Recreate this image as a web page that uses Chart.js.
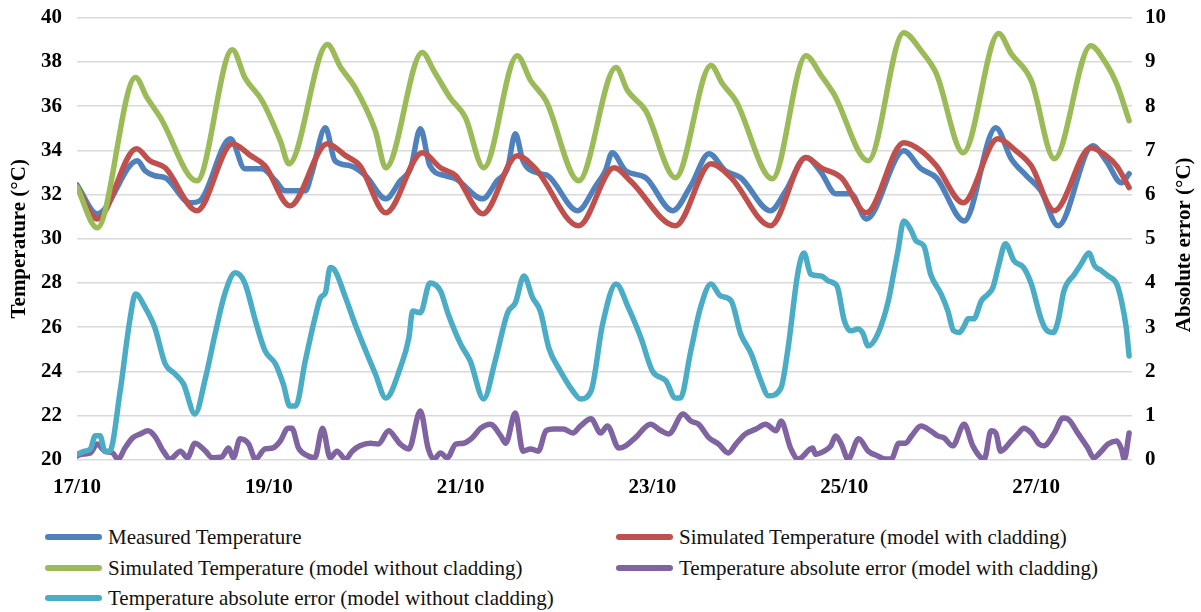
<!DOCTYPE html>
<html>
<head>
<meta charset="utf-8">
<script src="https://cdn.jsdelivr.net/npm/chart.js@4/dist/chart.umd.min.js"></script>
<style>
  body { margin: 0; background: #fff; }
  #wrap { position: relative; width: 1201px; height: 612px; overflow: hidden; font-family: "Liberation Serif", "Times New Roman", serif; }
  #line-chart { position: absolute; left: 0; top: -10px; }
  #legend .sw { position: absolute; width: 57px; height: 6px; border-radius: 3px; }
  #legend .lb { position: absolute; font-size: 21px; line-height: 24px; color: #111; white-space: nowrap; }
</style>
</head>
<body>
<div id="wrap">
  <canvas id="line-chart" width="1201" height="521"></canvas>
  <div id="legend"></div>
</div>
<script>
// x = day of October (17.0 = 17/10 00:00)
const dayTicks = [17, 19, 21, 23, 25, 27];
const tickLabels = ['17/10', '19/10', '21/10', '23/10', '25/10', '27/10'];

const measured = [
  [17.00,32.44],[17.21,31.13],[17.63,33.53],[17.71,33.08],[17.81,32.85],[17.92,32.76],[18.18,31.63],[18.28,31.72],
  [18.60,34.52],[18.75,33.17],[18.93,33.17],[19.07,32.62],[19.17,32.17],[19.38,32.17],[19.45,32.99],[19.59,35.02],
  [19.69,33.53],[19.85,33.30],[20.01,32.85],[20.22,31.81],[20.37,32.62],[20.48,33.21],[20.58,34.98],[20.68,33.30],
  [20.84,32.85],[20.95,32.71],[21.23,31.81],[21.38,32.62],[21.49,33.21],[21.57,34.75],[21.65,33.53],[21.83,32.94],
  [21.91,32.85],[22.22,31.27],[22.41,32.40],[22.51,33.08],[22.58,33.89],[22.72,33.08],[22.93,32.76],[23.21,31.27],
  [23.40,32.40],[23.59,33.85],[23.76,33.08],[23.92,32.76],[24.23,31.27],[24.39,32.17],[24.60,33.67],[24.76,32.99],
  [24.91,32.04],[25.07,32.04],[25.23,30.90],[25.62,33.98],[25.80,33.17],[25.96,32.76],[26.25,30.81],[26.58,35.02],
  [26.74,33.62],[26.90,32.85],[27.05,32.17],[27.23,30.59],[27.59,34.21],[27.73,33.53],[27.89,32.53],[27.97,32.94]
];

const simWith = [
  [17.00,32.35],[17.21,30.90],[17.62,34.07],[17.76,33.53],[17.92,33.21],[18.25,31.27],[18.62,34.30],[18.81,33.76],
  [18.96,33.30],[19.22,31.49],[19.61,34.30],[19.80,33.76],[19.95,33.30],[20.22,31.18],[20.60,33.89],[20.79,33.21],
  [20.95,32.85],[21.23,31.13],[21.59,33.76],[21.78,33.17],[22.23,30.59],[22.60,33.21],[22.77,32.62],[23.24,30.59],
  [23.61,33.39],[23.82,32.76],[24.23,30.59],[24.60,33.67],[24.76,33.21],[24.97,32.76],[25.23,31.18],[25.62,34.34],
  [25.80,33.98],[25.96,33.30],[26.24,31.63],[26.60,34.52],[26.79,33.98],[26.95,33.30],[27.19,31.27],[27.57,34.12],
  [27.73,33.76],[27.84,33.30],[27.97,32.31]
];

const simWithout = [
  [17.00,32.35],[17.21,30.50],[17.61,37.29],[17.73,36.38],[17.87,35.48],[18.25,32.62],[18.62,38.55],[18.75,37.29],
  [18.93,36.24],[19.12,34.43],[19.21,33.39],[19.61,38.78],[19.75,37.74],[19.90,36.83],[20.11,34.89],[20.22,33.21],
  [20.60,38.42],[20.72,37.60],[20.89,36.38],[21.05,35.48],[21.24,33.21],[21.59,38.28],[21.73,37.15],[21.89,36.24],
  [22.23,32.62],[22.62,37.74],[22.74,36.70],[22.93,35.79],[23.24,32.76],[23.61,37.83],[23.73,37.01],[23.87,36.24],
  [24.25,32.71],[24.60,38.28],[24.76,37.38],[24.89,36.56],[25.25,33.53],[25.62,39.32],[25.80,38.51],[25.96,37.47],
  [26.24,33.89],[26.61,39.28],[26.74,38.37],[26.95,37.15],[27.19,33.62],[27.57,38.73],[27.73,37.92],[27.84,37.01],
  [27.97,35.34]
];

const errWith = [
  [17.00,0.09],[17.05,0.13],[17.14,0.16],[17.21,0.36],[17.29,0.20],[17.37,0.16],[17.43,0.02],[17.50,0.27],
  [17.58,0.50],[17.66,0.59],[17.74,0.66],[17.81,0.54],[17.90,0.20],[17.97,0.02],[18.08,0.20],[18.15,0.05],
  [18.23,0.38],[18.34,0.20],[18.41,0.05],[18.51,0.07],[18.58,0.27],[18.63,0.05],[18.70,0.48],[18.79,0.36],
  [18.86,0.02],[18.96,0.25],[19.04,0.27],[19.12,0.43],[19.20,0.72],[19.24,0.72],[19.31,0.27],[19.41,0.09],
  [19.48,0.05],[19.56,0.72],[19.64,0.05],[19.71,0.20],[19.80,0.02],[19.87,0.20],[19.95,0.32],[20.06,0.38],
  [20.14,0.36],[20.25,0.66],[20.32,0.50],[20.37,0.36],[20.46,0.25],[20.58,1.11],[20.66,0.27],[20.72,0.02],
  [20.79,0.16],[20.86,0.05],[20.95,0.36],[21.03,0.38],[21.12,0.50],[21.21,0.72],[21.31,0.81],[21.42,0.54],
  [21.47,0.38],[21.57,1.06],[21.65,0.20],[21.73,0.25],[21.81,0.20],[21.89,0.66],[21.97,0.70],[22.07,0.70],
  [22.17,0.61],[22.25,0.77],[22.36,0.93],[22.46,0.61],[22.53,0.77],[22.65,0.27],[22.72,0.32],[22.82,0.50],
  [22.98,0.81],[23.09,0.66],[23.17,0.59],[23.32,1.04],[23.40,0.88],[23.48,0.81],[23.59,0.50],[23.69,0.36],
  [23.79,0.16],[23.87,0.36],[23.97,0.59],[24.08,0.70],[24.18,0.81],[24.29,0.66],[24.34,0.88],[24.44,0.27],
  [24.52,0.02],[24.67,0.27],[24.70,0.13],[24.79,0.20],[24.86,0.32],[24.91,0.54],[24.97,0.36],[25.04,0.02],
  [25.15,0.48],[25.25,0.20],[25.35,0.09],[25.43,0.02],[25.49,0.02],[25.57,0.38],[25.64,0.38],[25.70,0.54],
  [25.80,0.77],[25.90,0.66],[25.98,0.54],[26.04,0.50],[26.13,0.32],[26.25,0.81],[26.34,0.32],[26.46,0.02],
  [26.53,0.66],[26.58,0.61],[26.63,0.20],[26.74,0.43],[26.81,0.59],[26.87,0.72],[26.95,0.61],[27.03,0.36],
  [27.08,0.32],[27.19,0.61],[27.28,0.95],[27.33,0.93],[27.44,0.59],[27.54,0.27],[27.60,0.05],[27.68,0.20],
  [27.75,0.36],[27.84,0.43],[27.89,0.25],[27.92,0.02],[27.97,0.61]
];

const errWithout = [
  [17.00,0.13],[17.08,0.20],[17.14,0.25],[17.19,0.55],[17.24,0.55],[17.29,0.20],[17.34,0.20],[17.45,1.56],
  [17.55,3.15],[17.61,3.75],[17.71,3.45],[17.81,3.00],[17.92,2.17],[18.02,1.95],[18.11,1.72],[18.23,1.04],
  [18.34,1.86],[18.44,2.85],[18.54,3.75],[18.65,4.23],[18.75,4.00],[18.86,3.15],[18.96,2.47],[19.07,2.17],
  [19.15,1.72],[19.22,1.22],[19.28,1.22],[19.38,2.24],[19.48,3.20],[19.54,3.67],[19.59,3.78],[19.64,4.35],
  [19.69,4.28],[19.80,3.67],[19.90,3.07],[20.01,2.47],[20.11,1.95],[20.22,1.40],[20.37,2.08],[20.46,2.76],
  [20.50,3.37],[20.58,3.33],[20.68,4.00],[20.79,3.82],[20.87,3.30],[21.00,2.62],[21.10,2.24],[21.24,1.38],
  [21.36,2.24],[21.49,3.33],[21.57,3.55],[21.66,4.16],[21.75,3.67],[21.83,3.37],[21.92,2.53],[22.04,2.01],
  [22.17,1.56],[22.25,1.38],[22.36,1.56],[22.48,3.07],[22.62,3.98],[22.75,3.44],[22.88,2.76],[23.00,2.01],
  [23.14,1.79],[23.24,1.40],[23.29,1.40],[23.40,2.47],[23.50,3.44],[23.61,3.98],[23.71,3.71],[23.82,3.60],
  [23.92,2.85],[24.03,2.40],[24.13,1.79],[24.21,1.45],[24.34,1.63],[24.41,2.47],[24.52,4.28],[24.58,4.68],
  [24.65,4.20],[24.76,4.16],[24.83,4.05],[24.89,4.00],[24.93,3.90],[25.00,3.15],[25.07,2.92],[25.14,2.96],
  [25.19,2.88],[25.25,2.58],[25.35,2.85],[25.46,3.60],[25.52,4.28],[25.56,4.73],[25.62,5.40],[25.70,5.18],
  [25.75,4.95],[25.83,4.84],[25.90,4.20],[26.01,3.75],[26.08,3.37],[26.14,2.92],[26.20,2.88],[26.25,3.03],
  [26.29,3.19],[26.35,3.19],[26.43,3.60],[26.50,3.75],[26.55,3.90],[26.61,4.40],[26.68,4.89],[26.77,4.50],
  [26.87,4.35],[26.95,3.98],[27.05,3.20],[27.10,2.96],[27.18,2.88],[27.23,3.15],[27.29,3.82],[27.40,4.20],
  [27.47,4.43],[27.55,4.68],[27.61,4.39],[27.68,4.28],[27.75,4.16],[27.84,3.98],[27.89,3.60],[27.94,2.99],
  [27.97,2.35]
];

const seriesNames = [
  'Measured Temperature',
  'Simulated Temperature (model with cladding)',
  'Simulated Temperature (model without cladding)',
  'Temperature absolute error (model with cladding)',
  'Temperature absolute error (model without cladding)'
];
const colors = ['#4f81bd', '#c0504d', '#9bbb59', '#8064a2', '#4bacc6'];

const FONT = '"Liberation Serif", "Times New Roman", serif';
const pts = arr => arr.map(p => ({ x: p[0], y: p[1] }));

function line(i, data, axis, order) {
    return {
        label: seriesNames[i],
        data: pts(data),
        yAxisID: axis,
        borderColor: colors[i],
        backgroundColor: colors[i],
        borderWidth: 5.5,
        pointRadius: 0,
        cubicInterpolationMode: 'monotone',
        borderJoinStyle: 'round',
        borderCapStyle: 'round',
        fill: false,
        order: order
    };
}

// right title reads bottom-to-top, which chart.js does not do for right axes
const rightTitle = {
    id: 'rightTitle',
    afterDraw(chart) {
        const s = chart.scales.y1;
        const ctx = chart.ctx;
        ctx.save();
        ctx.translate(s.right - 16, (chart.chartArea.top + chart.chartArea.bottom) / 2 + 6);
        ctx.rotate(-Math.PI / 2);
        ctx.font = 'bold 21px ' + FONT;
        ctx.fillStyle = '#000';
        ctx.textAlign = 'center';
        ctx.textBaseline = 'middle';
        ctx.fillText('Absolute error (°C)', 0, 0);
        ctx.restore();
    }
};

new Chart(document.getElementById('line-chart'), {
    type: 'line',
    data: {
        datasets: [
            line(0, measured, 'y', 5),
            line(1, simWith, 'y', 4),
            line(2, simWithout, 'y', 3),
            line(3, errWith, 'y1', 2),
            line(4, errWithout, 'y1', 1)
        ]
    },
    options: {
        responsive: false,
        animation: false,
        layout: { padding: { top: 7, left: 0, right: 0, bottom: 0 } },
        plugins: { legend: { display: false }, tooltip: { enabled: false } },
        scales: {
            x: {
                type: 'linear',
                min: 17,
                max: 28,
                afterBuildTicks: s => { s.ticks = dayTicks.map(v => ({ value: v })); },
                afterFit: s => { s.height = 51; },
                ticks: {
                    callback: (v, i) => tickLabels[i],
                    font: { family: FONT, size: 21, weight: 'bold' },
                    color: '#000',
                    padding: 7,
                    maxRotation: 0
                },
                grid: { display: false },
                border: { display: false }
            },
            y: {
                position: 'left',
                min: 20,
                max: 40,
                afterFit: s => { s.width = 77; },
                ticks: {
                    stepSize: 2,
                    font: { family: FONT, size: 21, weight: 'bold' },
                    color: '#000',
                    padding: 15
                },
                grid: { color: '#d9d9d9', lineWidth: 1.6, drawTicks: false },
                border: { display: false },
                title: {
                    display: true,
                    text: 'Temperature (°C)',
                    font: { family: FONT, size: 21, weight: 'bold' },
                    color: '#000',
                    padding: { top: 7, bottom: 0 }
                }
            },
            y1: {
                position: 'right',
                min: 0,
                max: 10,
                afterFit: s => { s.width = 69; },
                ticks: {
                    stepSize: 1,
                    font: { family: FONT, size: 21, weight: 'bold' },
                    color: '#000',
                    padding: 13
                },
                grid: { drawOnChartArea: false, drawTicks: false },
                border: { display: false }
            }
        }
    },
    plugins: [rightTitle]
});

// legend, two columns as in the original
const legendPos = [[45, 537], [616, 537], [45, 568], [616, 568], [45, 598]];
const legend = document.getElementById('legend');
seriesNames.forEach((name, i) => {
    const [lx, ly] = legendPos[i];
    const sw = document.createElement('div');
    sw.className = 'sw';
    sw.style.left = lx + 'px';
    sw.style.top = (ly - 3) + 'px';
    sw.style.background = colors[i];
    legend.appendChild(sw);
    const lb = document.createElement('div');
    lb.className = 'lb';
    lb.style.left = (lx + 63) + 'px';
    lb.style.top = (ly - 12) + 'px';
    lb.textContent = name;
    legend.appendChild(lb);
});
</script>
</body>
</html>
